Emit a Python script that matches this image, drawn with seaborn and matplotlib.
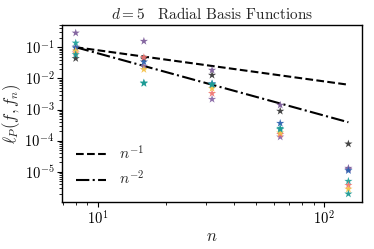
import matplotlib
matplotlib.use("Agg")
import matplotlib.pyplot as plt
import numpy as np
import pandas as pd
import seaborn as sns

# ===== Data =====
n_values = [8, 16, 32, 64, 128]

err_dark = [0.0436, 0.042, 0.0127, 8.9e-4, 7.9e-5]
err_purple = [0.287, 0.156, 0.0184, 1.39e-3, 1.31e-5]
err_purple2 = [0.102, 0.0246, 0.00214, 1.32e-4, 1.2e-5]
err_blue = [0.095, 0.034, 0.0068, 3.63e-4, 1.1e-5]
err_teal = [0.137, 0.0069, 0.00655, 2.5e-4, 5.0e-6]
err_salmon = [0.066, 0.047, 0.0033, 1.6e-4, 3.7e-6]
err_yellow = [0.076, 0.0194, 0.00478, 1.78e-4, 2.8e-6]
err_teal2 = [0.058, 0.0072, 0.0062, 2.3e-4, 1.96e-6]

series = {
    "dark": err_dark,
    "purple": err_purple,
    "purple2": err_purple2,
    "blue": err_blue,
    "teal": err_teal,
    "salmon": err_salmon,
    "yellow": err_yellow,
    "teal2": err_teal2,
}
palette = {
    "dark": "#3a3a3a",
    "purple": "#7f5f9c",
    "purple2": "#8a6aa8",
    "blue": "#2c62b0",
    "teal": "#22a39b",
    "salmon": "#f07673",
    "yellow": "#f5c24a",
    "teal2": "#1c9a94",
}

# reference slopes, anchored at 0.1 for n = 8
ref_c1 = 0.8
ref_c2 = 6.4

df = pd.DataFrame(
    [(n, name, v) for name, vals in series.items() for n, v in zip(n_values, vals)],
    columns=["n", "method", "err"],
)
n_arr = np.array(n_values, dtype=float)
ref_df = pd.DataFrame({"n": n_arr, "r1": ref_c1 / n_arr, "r2": ref_c2 / n_arr**2})

# ===== Style =====
sns.set_theme(style="ticks")
plt.rcParams["font.family"] = ["cmr10", "DejaVu Serif"]
plt.rcParams["mathtext.fontset"] = "cm"
plt.rcParams["axes.formatter.use_mathtext"] = True
plt.rcParams["axes.edgecolor"] = "black"
plt.rcParams["xtick.color"] = "black"
plt.rcParams["ytick.color"] = "black"
plt.rcParams["xtick.major.size"] = 3.5
plt.rcParams["ytick.major.size"] = 3.5
plt.rcParams["xtick.minor.size"] = 2
plt.rcParams["ytick.minor.size"] = 2
plt.rcParams["xtick.major.width"] = 0.8
plt.rcParams["ytick.major.width"] = 0.8
plt.rcParams["xtick.minor.width"] = 0.6
plt.rcParams["ytick.minor.width"] = 0.6

fig, ax = plt.subplots(figsize=(3.74, 2.49), dpi=100)
fig.subplots_adjust(left=0.166, right=0.968, bottom=0.189, top=0.9)

sns.lineplot(data=ref_df, x="n", y="r1", ax=ax, color="black", linestyle="--",
             linewidth=1.5, label="$n^{-1}$")
sns.lineplot(data=ref_df, x="n", y="r2", ax=ax, color="black", linestyle="-.",
             linewidth=1.5, label="$n^{-2}$")
sns.scatterplot(data=df, x="n", y="err", hue="method", palette=palette, marker="*",
                s=38, linewidth=0, alpha=0.95, legend=False, ax=ax, zorder=3)

ax.set_xscale("log")
ax.set_yscale("log")
ax.set_title("$d=5\\quad$Radial Basis Functions", fontsize=11, pad=4)
ax.set_xlabel("$n$", fontsize=12, labelpad=1)
ax.set_ylabel("$\\ell_P(f, f_n)$", fontsize=12, labelpad=1)
ax.tick_params(labelsize=10.5, pad=2)
for spine in ax.spines.values():
    spine.set_linewidth(1.0)

ax.legend(loc="lower left", frameon=False, fontsize=11)

fig.savefig("out.png", dpi=100)
